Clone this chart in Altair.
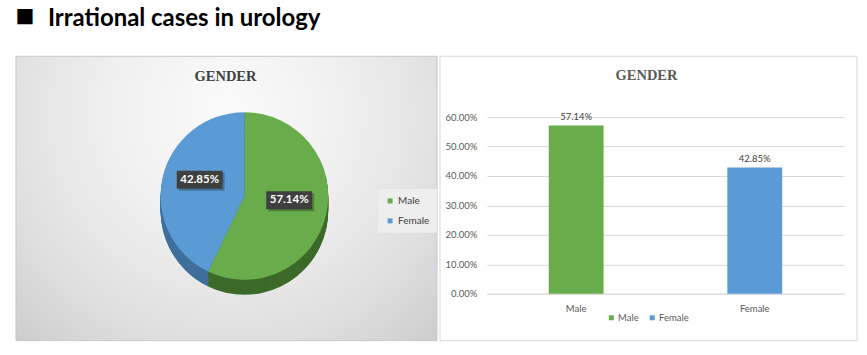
import altair as alt
import pandas as pd

# ---- data ----
genders = ["Male", "Female"]
shares = [0.5714, 0.4285]
top_colors = ["#69ac4b", "#5b9bd5"]
side_colors = ["#3d6a2a", "#3f6f9b"]
y_ticks = [0.0, 0.1, 0.2, 0.3, 0.4, 0.5, 0.6]
main_title = "Irrational cases in urology"
bullet = ["■"]
panel_title = ["GENDER"]

df = pd.DataFrame({"gender": genders, "pct": shares, "ord": list(range(len(genders)))})
title_df = pd.DataFrame({"t": panel_title})
main_df = pd.DataFrame({"t": [main_title], "b": bullet})

FONT = "Lato"

# ---- geometry (pixels, relative to the left cell origin) ----
LW, CH = 422, 177          # left cell width, common cell height
CX, CY, R, DEPTH, LR = 229, 79, 84, 15, 46
LY_SHIFT = -6
BW, BH = 46, 18            # label box size

# ---------------- left panel: 3D-looking pie ----------------
frame = alt.Chart(title_df).mark_rect(fill="white").encode(
    x=alt.value(-15), x2=alt.value(852), y=alt.value(-116), y2=alt.value(239)
)

panel_bg = alt.Chart(title_df).mark_rect(
    fill={
        "gradient": "radial",
        "x1": 0.5, "y1": 0.3, "r1": 0,
        "x2": 0.5, "y2": 0.3, "r2": 0.85,
        "stops": [
            {"offset": 0, "color": "#fbfbfb"},
            {"offset": 0.35, "color": "#efefef"},
            {"offset": 0.65, "color": "#dedede"},
            {"offset": 1, "color": "#c2c2c2"},
        ],
    },
    stroke="#c8c8c8",
    strokeWidth=1,
).encode(x=alt.value(0), x2=alt.value(LW), y=alt.value(-61), y2=alt.value(224))

arc_base = alt.Chart(df).encode(
    theta=alt.Theta("pct:Q", stack=True),
    order=alt.Order("ord:Q"),
)

side_layers = [
    arc_base.mark_arc(radius=R, strokeWidth=0).encode(
        fill=alt.Fill("gender:N", scale=alt.Scale(domain=genders, range=side_colors), legend=None),
        x=alt.value(CX),
        y=alt.value(CY + d),
    )
    for d in range(DEPTH, 0, -1)
]

top_arcs = arc_base.mark_arc(radius=R, strokeWidth=0).encode(
    color=alt.Color(
        "gender:N",
        scale=alt.Scale(domain=genders, range=top_colors),
        legend=alt.Legend(
            orient="none", legendX=363, legendY=72, direction="vertical", title=None,
            symbolType="square", symbolSize=25, symbolStrokeWidth=0,
            labelFontSize=10, labelColor="#404040", labelFont=FONT,
            fillColor="#eeeeee", padding=7, rowPadding=10, labelOffset=3,
        ),
    ),
    x=alt.value(CX),
    y=alt.value(CY),
)

lab_base = alt.Chart(df).transform_window(
    cum="sum(pct)", sort=[alt.SortField("ord")]
).transform_joinaggregate(
    total="sum(pct)"
).transform_calculate(
    mid="(datum.cum - datum.pct / 2) / datum.total * 2 * PI",
    lx=f"{CX} + {LR} * sin(datum.mid)",
    ly=f"{CY} - {LR} * cos(datum.mid) + {LY_SHIFT}",
    bx1=f"datum.lx - {BW / 2}",
    bx2=f"datum.lx + {BW / 2}",
    by1=f"datum.ly - {BH / 2}",
    by2=f"datum.ly + {BH / 2}",
    sx1=f"datum.lx - {BW / 2} + 2",
    sx2=f"datum.lx + {BW / 2} + 2",
    sy1=f"datum.ly - {BH / 2} + 2",
    sy2=f"datum.ly + {BH / 2} + 2",
)

lab_shadow = lab_base.mark_rect(color="#000000", opacity=0.25).encode(
    x=alt.X("sx1:Q", scale=None, axis=None), x2="sx2:Q",
    y=alt.Y("sy1:Q", scale=None, axis=None), y2="sy2:Q",
)
lab_box = lab_base.mark_rect(color="#3f3f3f").encode(
    x=alt.X("bx1:Q", scale=None, axis=None), x2="bx2:Q",
    y=alt.Y("by1:Q", scale=None, axis=None), y2="by2:Q",
)
lab_text = lab_base.mark_text(
    color="white", font=FONT, fontWeight="bold", fontSize=11.5, baseline="middle", align="center"
).encode(
    x=alt.X("lx:Q", scale=None, axis=None),
    y=alt.Y("ly:Q", scale=None, axis=None),
    text=alt.Text("pct:Q", format=".2%"),
)

left_title = alt.Chart(title_df).mark_text(
    font="Liberation Serif", fontWeight="bold", fontSize=14.5, color="#404040",
    baseline="middle", align="center",
).encode(x=alt.value(210), y=alt.value(-40), text="t:N")

big_title = alt.Chart(main_df).mark_text(
    font=FONT, fontWeight="bold", fontSize=24, color="#000000",
    baseline="alphabetic", align="left",
).encode(x=alt.value(32), y=alt.value(-91), text="t:N")

big_bullet = alt.Chart(main_df).mark_text(
    font="DejaVu Sans", fontSize=20, color="#000000", baseline="middle", align="center",
).encode(x=alt.value(9), y=alt.value(-101), text="b:N")

left = alt.layer(
    frame, panel_bg, *side_layers, top_arcs, lab_shadow, lab_box, lab_text,
    left_title, big_title, big_bullet,
).properties(width=LW, height=CH)

# ---------------- right panel: bar chart ----------------
border = alt.Chart(title_df).mark_rect(filled=False, stroke="#d9d9d9", strokeWidth=1).encode(
    x=alt.value(-47), x2=alt.value(371), y=alt.value(-61), y2=alt.value(224)
)

bar_base = alt.Chart(df).encode(
    x=alt.X(
        "gender:N", sort=genders, title=None,
        scale=alt.Scale(paddingInner=0, paddingOuter=0),
        axis=alt.Axis(
            labelAngle=0, ticks=False, labelPadding=10, domainColor="#d9d9d9",
            labelColor="#595959", labelFontSize=9.5, labelFont=FONT, grid=False,
        ),
    ),
    y=alt.Y(
        "pct:Q", title=None,
        scale=alt.Scale(domain=[0, 0.6], nice=False),
        axis=alt.Axis(
            values=y_ticks, format=".2%", ticks=False, domain=False,
            gridColor="#d9d9d9", labelPadding=10, labelColor="#595959",
            labelFontSize=9.5, labelFont=FONT,
        ),
    ),
)

bars = bar_base.mark_bar(size=55).encode(
    color=alt.Color(
        "gender:N",
        scale=alt.Scale(domain=genders, range=top_colors),
        legend=alt.Legend(
            orient="none", legendX=120, legendY=196, direction="horizontal", title=None,
            symbolType="square", symbolSize=25, symbolStrokeWidth=0,
            labelFontSize=9.5, labelColor="#595959", labelFont=FONT,
            columnPadding=8, labelOffset=2,
        ),
    )
)

bar_labels = bar_base.mark_text(
    dy=-9, font=FONT, fontSize=9.5, color="#404040", baseline="middle"
).encode(text=alt.Text("pct:Q", format=".2%"))

right_title = alt.Chart(title_df).mark_text(
    font="Liberation Serif", fontWeight="bold", fontSize=14.5, color="#595959",
    baseline="middle", align="center",
).encode(x=alt.value(160), y=alt.value(-41), text="t:N")

right = alt.layer(border, bars, bar_labels, right_title).properties(width=358, height=CH)

chart = (
    alt.hconcat(left, right, spacing=50, bounds="flush")
    .resolve_scale(color="independent")
    .properties(padding=0, background="white")
    .configure_view(stroke="transparent")
)

chart.save("out.html", embed_options={"renderer": "svg", "actions": False})
